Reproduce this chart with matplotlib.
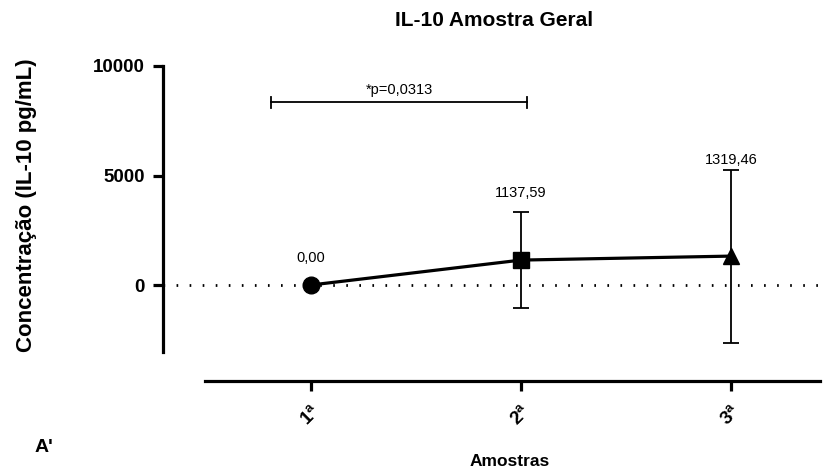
import matplotlib
matplotlib.use("Agg")
import matplotlib.pyplot as plt
import matplotlib.transforms as mtransforms

categories = ["1ª", "2ª", "3ª"]
means = [0.0, 1137.59, 1319.46]
sds = [0.0, 2200.0, 3950.0]
markers = ["o", "s", "^"]
value_labels = ["0,00", "1137,59", "1319,46"]
p_label = "*p=0,0313"
bracket_x = [0.81, 2.03]
bracket_y = 8350

plt.rcParams['font.family'] = ['Liberation Sans', 'DejaVu Sans']
plt.rcParams['mathtext.fontset'] = 'custom'
plt.rcParams['mathtext.rm'] = 'Liberation Sans'
plt.rcParams['mathtext.bf'] = 'Liberation Sans:bold'

fig = plt.figure(figsize=(8.27, 4.70), dpi=100)
W, H = 827, 470
left, right, top, bottom = 163, 820, 66, 381
ax = fig.add_axes([left / W, 1 - bottom / H, (right - left) / W, (bottom - top) / H])

x = [1, 2, 3]
ax.plot(x, means, color="black", lw=2.3, zorder=3)
for xi, m, s, mk in zip(x, means, sds, markers):
    ax.errorbar(xi, m, yerr=s, fmt=mk, color="black", ms=11 if mk != "o" else 12,
                ecolor="black", elinewidth=1.3, capsize=6, capthick=1.3, zorder=4)

y0_pix = 285
scale = 10000 / (y0_pix - top)

label_pix = [258, 193, 160]
for xi, lab, py in zip(x, value_labels, label_pix):
    ax.text(xi, (y0_pix - py) * scale, lab, ha="center", va="center", fontsize=10.5)

# zero dotted line
ax.axhline(0, color="black", lw=2.0, ls=(0, (0.6, 4.1)), zorder=1)

# bracket
ax.plot(bracket_x, [bracket_y, bracket_y], color="black", lw=1.3)
for bx in bracket_x:
    ax.plot([bx, bx], [bracket_y - 250, bracket_y + 250], color="black", lw=1.3)
ax.text(sum(bracket_x) / 2, (y0_pix - 90) * scale, p_label, ha="center", va="center",
        fontsize=10.5)

# scales
ax.set_ylim(-(bottom - y0_pix) * scale, 10000)
ax.set_xlim(1 - (311 - left) / 210, 3 + (right - 731) / 210)

ax.spines["top"].set_visible(False)
ax.spines["right"].set_visible(False)
ax.spines["left"].set_linewidth(2.3)
ax.spines["bottom"].set_linewidth(2.3)
ax.spines["left"].set_bounds(-(352 - y0_pix) * scale, 10000)
ax.spines["bottom"].set_bounds(1 - (311 - 205) / 210, ax.get_xlim()[1])

ax.set_yticks([0, 5000, 10000])
ax.set_yticklabels(["0", "5000", "10000"], fontsize=13.5, fontweight="bold")
ax.set_xticks(x)
tick_text = [r"$\mathbf{%s}^{\mathbf{a}}$" % c[0] for c in categories]
ax.set_xticklabels(tick_text, fontsize=13.5, rotation=45,
                   ha="right", va="top", rotation_mode="anchor")
offset = mtransforms.ScaledTranslation(-5 / 100, 0, fig.dpi_scale_trans)
for lab in ax.get_xticklabels():
    lab.set_transform(lab.get_transform() + offset)
ax.tick_params(axis="both", length=7, width=2.3, color="black")
ax.tick_params(axis="x", pad=8)
ax.tick_params(axis="y", pad=6)

ax.set_ylabel("Concentração (IL-10 pg/mL)", fontsize=16, fontweight="bold")
ax.yaxis.set_label_coords(-(left - 37) / (right - left), (bottom - 205) / (bottom - top))

fig.text(510 / W, 1 - 462 / H, "Amostras", ha="center", va="center",
         fontsize=12.5, fontweight="bold")
fig.text(494 / W, 1 - 20 / H, "IL-10 Amostra Geral", ha="center", va="center",
         fontsize=15, fontweight="bold")
fig.text(35 / W, 1 - 447 / H, "A'", ha="left", va="center",
         fontsize=14, fontweight="bold")

fig.savefig("out.png", dpi=100)
